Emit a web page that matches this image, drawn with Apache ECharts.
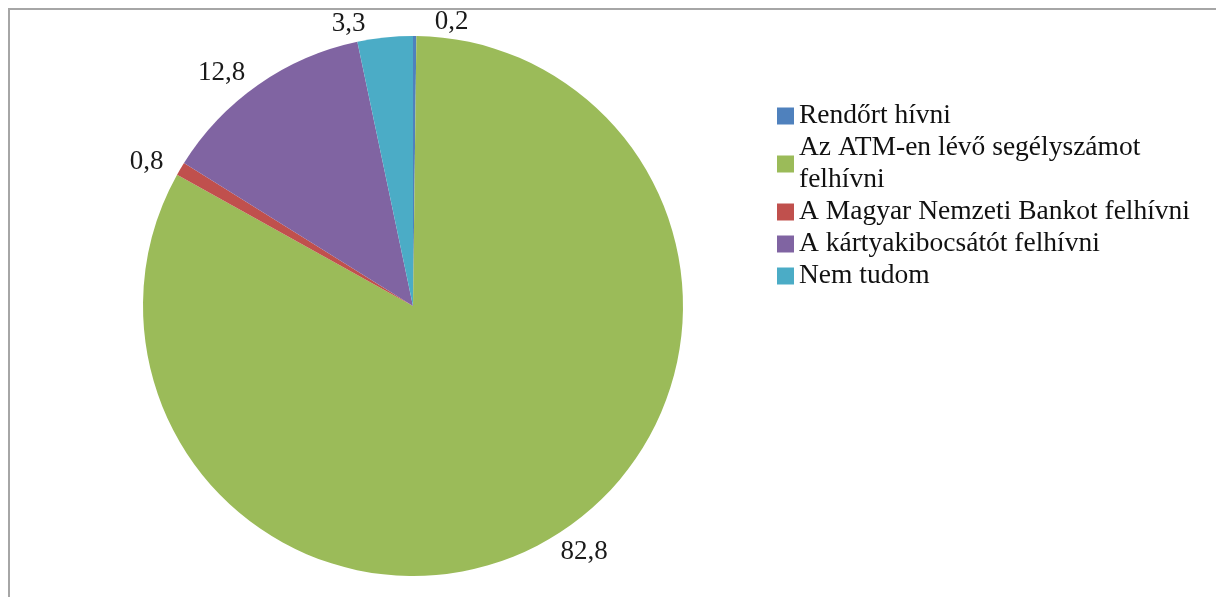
<!DOCTYPE html>
<html>
<head>
<meta charset="utf-8">
<script src="https://cdn.jsdelivr.net/npm/echarts@6/dist/echarts.min.js"></script>
<style>
  html, body { margin: 0; padding: 0; background: #fff; }
  #chart { width: 1216px; height: 597px; }
</style>
</head>
<body>
<div id="chart"></div>
<script>
  const categories = [
    "Rendőrt hívni",
    "Az ATM-en lévő segélyszámot\nfelhívni",
    "A Magyar Nemzeti Bankot felhívni",
    "A kártyakibocsátót felhívni",
    "Nem tudom"
  ];
  const values = [0.2, 82.8, 0.8, 12.8, 3.3];
  const colors = ["#4F81BD", "#9BBB59", "#C0504D", "#8064A2", "#4BACC6"];

  const serif = '"Liberation Serif", "DejaVu Serif", serif';

  // small nudges for the two labels at the top so they sit like the original
  const labelNudge = { 0: [15, 0], 4: [-13, 0] };

  const chart = echarts.init(document.getElementById("chart"));

  const option = {
    backgroundColor: "#fff",
    animation: false,
    color: colors,
    graphic: [
      {
        type: "rect",
        shape: { x: 9, y: 9, width: 1240, height: 620 },
        style: { fill: "none", stroke: "#a6a6a6", lineWidth: 2 },
        silent: true
      }
    ],
    legend: {
      orient: "vertical",
      left: 777,
      top: 100,
      padding: 0,
      itemWidth: 17,
      itemHeight: 17,
      itemGap: 0,
      icon: "rect",
      data: categories,
      textStyle: {
        fontFamily: serif,
        fontSize: 27.5,
        lineHeight: 32,
        color: "#111"
      }
    },
    series: [
      {
        type: "pie",
        center: [413, 306],
        radius: 270,
        startAngle: 90,
        clockwise: true,
        avoidLabelOverlap: false,
        data: categories.map((name, i) => {
          const d = { name: name, value: values[i] };
          if (labelNudge[i]) d.label = { offset: labelNudge[i] };
          return d;
        }),
        itemStyle: { borderWidth: 0 },
        label: {
          show: true,
          position: "outside",
          fontFamily: serif,
          fontSize: 27,
          color: "#1a1a1a",
          formatter: (p) => String(p.value).replace(".", ",")
        },
        labelLine: { show: false, length: 14, length2: 0 },
        emphasis: { disabled: true }
      }
    ]
  };

  chart.setOption(option);
</script>
</body>
</html>
